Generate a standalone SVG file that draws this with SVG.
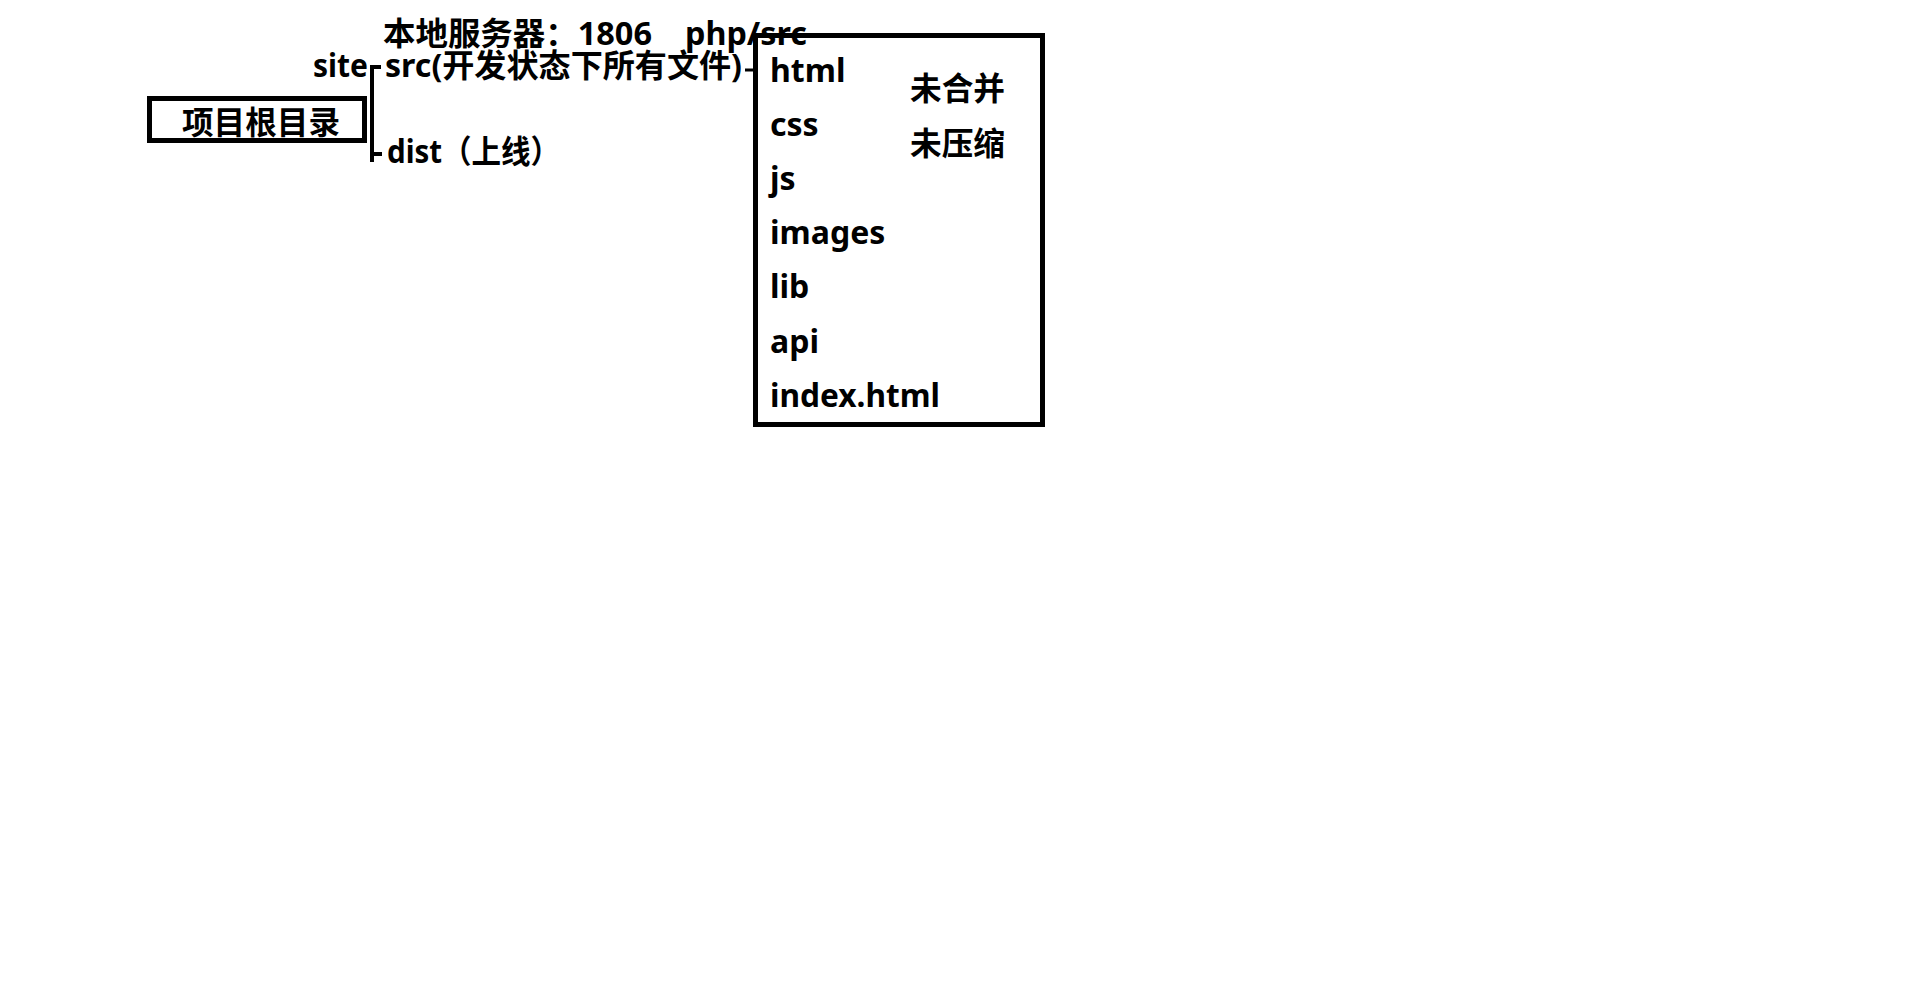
<svg xmlns="http://www.w3.org/2000/svg" width="1908" height="1002" viewBox="0 0 1908 1002">
<style>
text{font-family:"Noto Sans","Noto Sans CJK SC",sans-serif;font-weight:bold;font-size:32px;fill:#000}
.box{fill:none;stroke:#000;stroke-width:5}
.ln{stroke:#000;stroke-width:4;fill:none}
</style>
<rect width="1908" height="1002" fill="#fff"/>
<g id="root">
<rect class="box" x="149.5" y="98.5" width="215" height="42"/>
<text x="182" y="134" textLength="158" lengthAdjust="spacingAndGlyphs">项目根目录</text>
</g>
<g id="site"><text x="313" y="77" textLength="55" lengthAdjust="spacingAndGlyphs">site</text></g>
<g id="server"><text x="383" y="45" textLength="269" lengthAdjust="spacingAndGlyphs">本地服务器：1806</text>
<text x="685" y="45" textLength="122" lengthAdjust="spacingAndGlyphs">php/src</text></g>
<g id="src"><text x="385" y="77" textLength="357" lengthAdjust="spacingAndGlyphs">src(开发状态下所有文件)</text></g>
<g id="dist"><text x="387" y="163" textLength="173" lengthAdjust="spacingAndGlyphs">dist（上线）</text></g>
<g id="srcbox">
<rect class="box" x="755.5" y="35.5" width="287" height="389"/>
<text x="770" y="82">html</text>
<text x="770" y="136">css</text>
<text x="770" y="190">js</text>
<text x="770" y="244">images</text>
<text x="770" y="298">lib</text>
<text x="770" y="353">api</text>
<text x="770" y="407" textLength="170" lengthAdjust="spacingAndGlyphs">index.html</text>
<text x="910" y="100" textLength="95" lengthAdjust="spacingAndGlyphs">未合并</text>
<text x="910" y="155" textLength="95" lengthAdjust="spacingAndGlyphs">未压缩</text>
</g>
<g id="connectors">
<path class="ln" d="M372 65V162"/>
<path class="ln" d="M370 67H381"/>
<path class="ln" d="M370 154H382"/>
<path class="ln" d="M745 70H756" style="stroke-width:3"/>
</g>
</svg>
